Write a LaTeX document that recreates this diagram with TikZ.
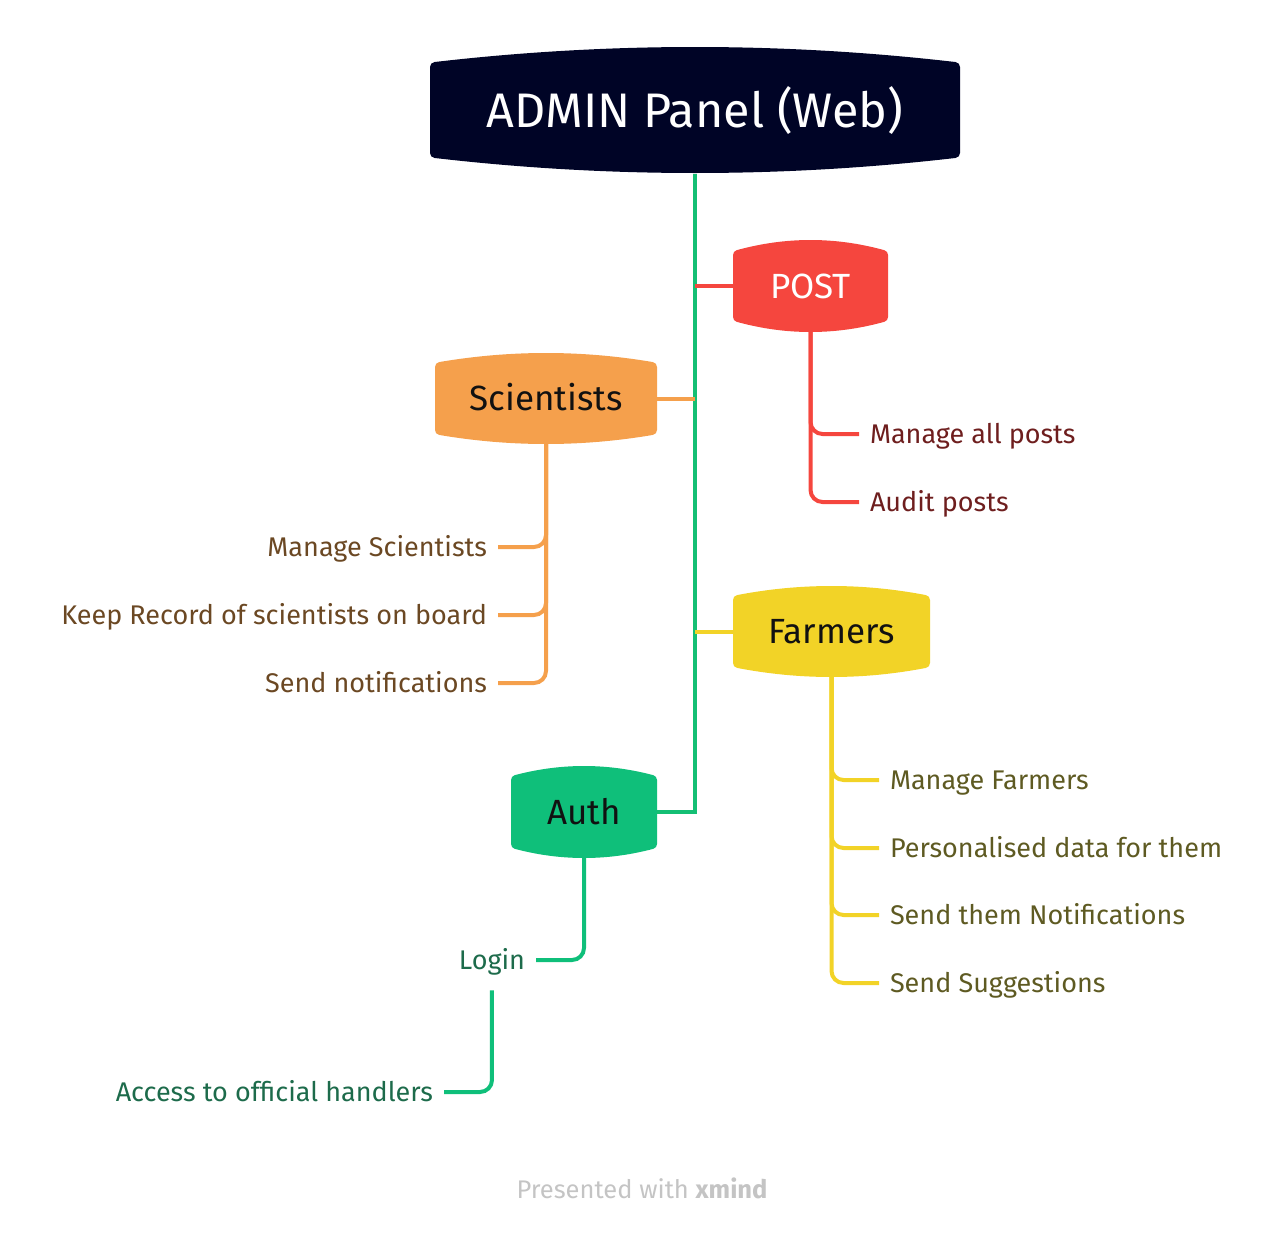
\documentclass[tikz,border=0pt]{standalone}
\usepackage{fontspec}
\setmainfont{Fira Sans}
\definecolor{rootc}{HTML}{000426}
\definecolor{postc}{HTML}{F5463E}
\definecolor{scic}{HTML}{F5A04C}
\definecolor{farmc}{HTML}{F2D327}
\definecolor{authc}{HTML}{0FBF7A}
\definecolor{trunkc}{HTML}{14BF74}
\definecolor{postt}{HTML}{6E1E1E}
\definecolor{scit}{HTML}{6B4823}
\definecolor{farmt}{HTML}{5E5A22}
\definecolor{autht}{HTML}{1D6B4B}
\definecolor{topict}{HTML}{111111}
\definecolor{footc}{HTML}{C4C4C4}
\newcommand\barrel[6]{%
\fill[#1, draw=#1, line width=10pt, line join=round]
 (#2+5,#3+#6) .. controls ({#2+5+(#4-#2-10)/3},{#3+(20-#6)/3}) and ({#4-5-(#4-#2-10)/3},{#3+(20-#6)/3}) .. (#4-5,#3+#6)
 -- (#4-5,#5-#6) .. controls ({#4-5-(#4-#2-10)/3},{#5-(20-#6)/3}) and ({#2+5+(#4-#2-10)/3},{#5-(20-#6)/3}) .. (#2+5,#5-#6)
 -- cycle;}
\begin{document}
\begin{tikzpicture}[x=1pt,y=-1pt,
  every node/.style={inner sep=0pt, outer sep=0pt},
  topic/.style={text depth=0pt, align=center},
  subfont/.style={font=\fontsize{35}{40}\selectfont, text height=24pt},
  leaf/.style={font=\fontsize{27}{32}\selectfont, text height=18.5pt, text depth=0pt, inner xsep=11pt},
  leafW/.style={leaf, anchor=west},
  leafE/.style={leaf, anchor=east},
  conn/.style={line width=4pt},
  trunk/.style={conn, draw=trunkc},
  redl/.style={conn, draw=postc},
  orl/.style={conn, draw=scic},
  yel/.style={conn, draw=farmc},
  grl/.style={conn, draw=authc}]
\useasboundingbox (0,0) rectangle (1280,1234);
% topic shapes
\barrel{rootc}{430}{47}{960}{173}{20}
\barrel{postc}{733}{240}{888}{332}{15}
\barrel{scic}{435}{353}{657}{444}{14}
\barrel{farmc}{733}{586}{930}{677}{14}
\barrel{authc}{511}{766}{657}{858}{14}
% topic nodes
\node[topic, text=white, font=\fontsize{48.5}{52}\selectfont, text height=33.5pt, minimum width=530pt, minimum height=126pt] (root) at (695,111) {ADMIN Panel (Web)};
\node[topic, subfont, text=white, minimum width=155pt, minimum height=92pt] (post) at (810.5,286) {POST};
\node[topic, subfont, text=topict, minimum width=222pt, minimum height=91pt] (sci) at (546,398.5) {Scientists};
\node[topic, subfont, text=topict, minimum width=197pt, minimum height=91pt] (farm) at (831.5,631.5) {Farmers};
\node[topic, subfont, text=topict, minimum width=146pt, minimum height=92pt] (auth) at (584,812) {Auth};
% main connectors
\draw[trunk] (root.south) |- (auth.east);
\draw[redl] (root.south |- post.west) -- (post.west);
\draw[orl] (root.south |- sci.east) -- (sci.east);
\draw[yel] (root.south |- farm.west) -- (farm.west);
% POST leaves
\node[leafW, text=postt] (p1) at (859,434) {Manage all posts};
\node[leafW, text=postt] (p2) at (859,502) {Audit posts};
\draw[redl, rounded corners=12pt] (post.south) |- (p1.west);
\draw[redl, rounded corners=12pt] (post.south) |- (p2.west);
% Scientists leaves
\node[leafE, text=scit] (s1) at (498,547) {Manage Scientists};
\node[leafE, text=scit] (s2) at (498,615) {Keep Record of scientists on board};
\node[leafE, text=scit] (s3) at (498,683) {Send notifications};
\draw[orl, rounded corners=12pt] (sci.south) |- (s1.east);
\draw[orl, rounded corners=12pt] (sci.south) |- (s2.east);
\draw[orl, rounded corners=12pt] (sci.south) |- (s3.east);
% Farmers leaves
\node[leafW, text=farmt] (f1) at (879,780) {Manage Farmers};
\node[leafW, text=farmt] (f2) at (879,848) {Personalised data for them};
\node[leafW, text=farmt] (f3) at (879,915) {Send them Notifications};
\node[leafW, text=farmt] (f4) at (879,983) {Send Suggestions};
\draw[yel, rounded corners=12pt] (farm.south) |- (f1.west);
\draw[yel, rounded corners=12pt] (farm.south) |- (f2.west);
\draw[yel, rounded corners=12pt] (farm.south) |- (f3.west);
\draw[yel, rounded corners=12pt] (farm.south) |- (f4.west);
% Auth leaves
\node[leafE, text=autht] (login) at (536,960) {Login};
\node[leafE, text=autht] (acc) at (444,1092) {Access to official handlers};
\draw[grl, rounded corners=12pt] (auth.south) |- (login.east);
\draw[grl, rounded corners=12pt] ([yshift=-21pt]login.south) |- (acc.east);
% footer
\node[font=\fontsize{25.5}{30}\selectfont, text=footc] (foot) at (642,1188) {Presented with \textbf{xmind}};
\end{tikzpicture}
\end{document}
